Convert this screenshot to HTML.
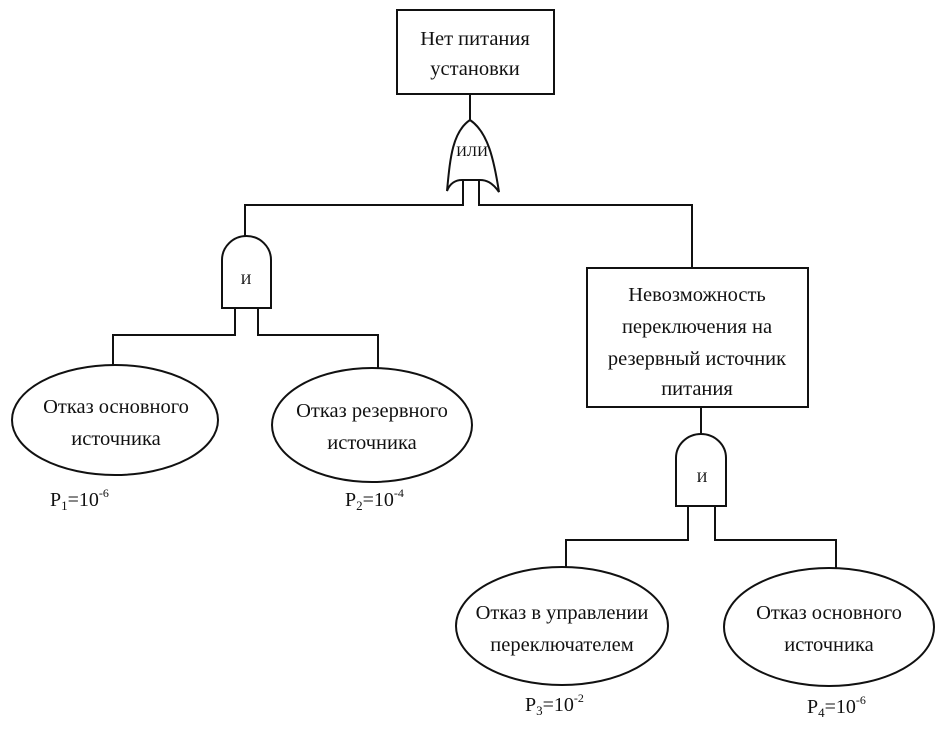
<!DOCTYPE html>
<html><head><meta charset="utf-8"><style>
html,body{margin:0;padding:0;background:#fff;}
svg text{font-family:"Liberation Serif",serif;fill:#111;}
</style></head><body>
<svg width="950" height="746" viewBox="0 0 950 746" xmlns="http://www.w3.org/2000/svg">
<g fill="none" stroke="#111" stroke-width="2">
<rect x="397" y="10" width="157" height="84" fill="#fff"/>
<line x1="470" y1="94" x2="470" y2="120"/>
<path d="M447,191 C450,160 452,132 470,120 C488,132 494,160 499,192 C492,182 486,180 480,180 L462,180 C456,180 450,183 447,191 Z"/>
<path d="M463,180 L463,205 L245,205 L245,236"/>
<path d="M479,180 L479,205 L692,205 L692,268"/>
<path d="M222,308 L222,260 A24.5,24 0 0 1 271,260 L271,308 Z"/>
<path d="M235,308 L235,335 L113,335 L113,365"/>
<path d="M258,308 L258,335 L378,335 L378,368"/>
<ellipse cx="115" cy="420" rx="103" ry="55"/>
<ellipse cx="372" cy="425" rx="100" ry="57"/>
<rect x="587" y="268" width="221" height="139"/>
<line x1="701" y1="407" x2="701" y2="434"/>
<path d="M676,506 L676,458 A25,24 0 0 1 726,458 L726,506 Z"/>
<path d="M688,506 L688,540 L566,540 L566,568"/>
<path d="M715,506 L715,540 L836,540 L836,568"/>
<ellipse cx="562" cy="626" rx="106" ry="59"/>
<ellipse cx="829" cy="627" rx="105" ry="59"/>
</g>
<g font-size="20.5" text-anchor="middle">
<text x="475" y="45">Нет питания</text>
<text x="475" y="75">установки</text>
<text x="472" y="156" font-size="15">ИЛИ</text>
<text x="246" y="284" font-size="15">И</text>
<text x="702" y="482" font-size="15">И</text>
<text x="116" y="413">Отказ основного</text>
<text x="116" y="445">источника</text>
<text x="372" y="417">Отказ резервного</text>
<text x="372" y="449">источника</text>
<text x="697" y="301">Невозможность</text>
<text x="697" y="333">переключения на</text>
<text x="697" y="365">резервный источник</text>
<text x="697" y="395">питания</text>
<text x="562" y="619">Отказ в управлении</text>
<text x="562" y="651">переключателем</text>
<text x="829" y="619">Отказ основного</text>
<text x="829" y="651">источника</text>
</g>
<g font-size="20">
<text x="50" y="506">P<tspan font-size="13" dy="4">1</tspan><tspan dy="-4">=10</tspan><tspan font-size="12" dy="-9">-6</tspan></text>
<text x="345" y="506">P<tspan font-size="13" dy="4">2</tspan><tspan dy="-4">=10</tspan><tspan font-size="12" dy="-9">-4</tspan></text>
<text x="525" y="711">P<tspan font-size="13" dy="4">3</tspan><tspan dy="-4">=10</tspan><tspan font-size="12" dy="-9">-2</tspan></text>
<text x="807" y="713">P<tspan font-size="13" dy="4">4</tspan><tspan dy="-4">=10</tspan><tspan font-size="12" dy="-9">-6</tspan></text>
</g>
</svg>
</body></html>
